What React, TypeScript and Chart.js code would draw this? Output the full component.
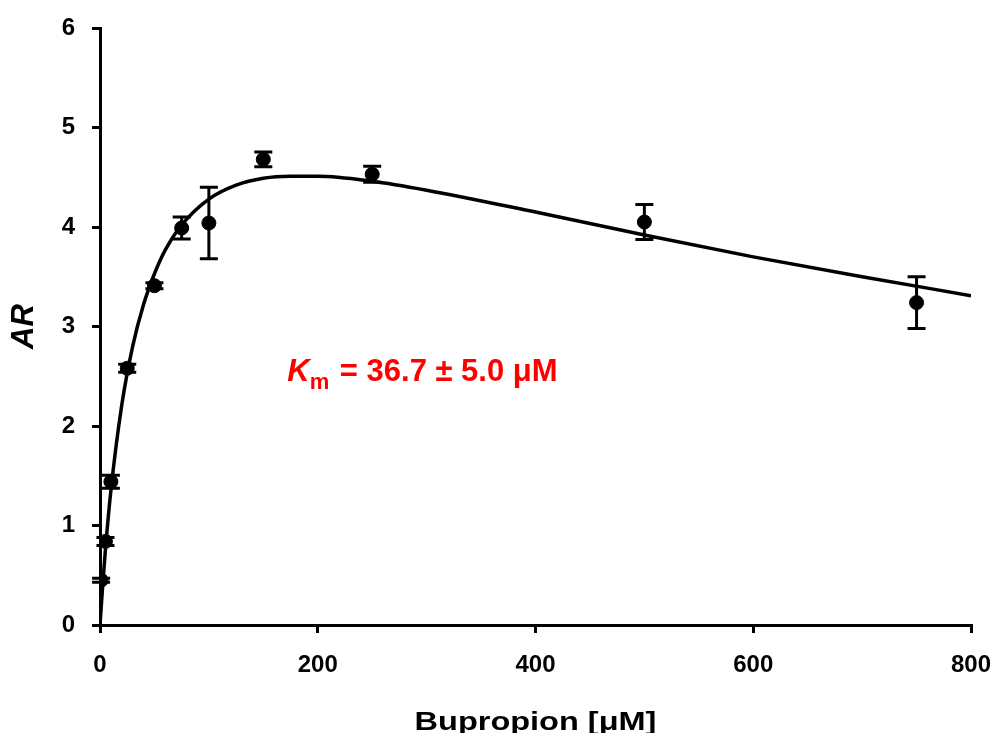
import React, { useEffect, useRef } from "react";
import { Chart, registerables } from "chart.js";

Chart.register(...registerables);

const conc = [1, 5, 10, 25, 50, 75, 100, 150, 250, 500, 750];
const arValues = [0.45, 0.84, 1.44, 2.58, 3.41, 3.99, 4.04, 4.68, 4.53, 4.05, 3.24];
const arErrors = [0.02, 0.04, 0.065, 0.04, 0.03, 0.11, 0.36, 0.075, 0.08, 0.175, 0.26];

const fitX = [0, 2.5, 5, 10, 20, 30, 40, 50, 60, 75, 100, 125, 150, 175, 200, 250, 300, 400, 500, 600, 700, 800];
const fitY = [0, 0.4, 0.76, 1.35, 2.21, 2.8, 3.22, 3.53, 3.77, 4.02, 4.28, 4.42, 4.49, 4.51, 4.51, 4.46, 4.37, 4.15, 3.92, 3.7, 3.5, 3.31];

const xTicks = [0, 200, 400, 600, 800];
const yTicks = [0, 1, 2, 3, 4, 5, 6];

const xTitle = "Bupropion [μM]";
const yTitle = "AR";
const annotation = { x: 172, y: 2.45, k: "K", sub: "m", rest: " = 36.7 ± 5.0 μM" };

const FONT = "Arial, 'Liberation Sans', sans-serif";

const errorBarPlugin = {
  id: "errorBars",
  afterDatasetsDraw(chart: any) {
    const xs = chart.scales.x;
    const ys = chart.scales.y;
    const ctx = chart.ctx;
    ctx.save();
    ctx.strokeStyle = "#000";
    ctx.lineWidth = 3;
    const cap = 9;
    conc.forEach((c, i) => {
      const px = xs.getPixelForValue(c);
      const top = ys.getPixelForValue(arValues[i] + arErrors[i]);
      const bot = ys.getPixelForValue(arValues[i] - arErrors[i]);
      ctx.beginPath();
      ctx.moveTo(px, top);
      ctx.lineTo(px, bot);
      ctx.moveTo(px - cap, top);
      ctx.lineTo(px + cap, top);
      ctx.moveTo(px - cap, bot);
      ctx.lineTo(px + cap, bot);
      ctx.stroke();
    });
    // annotation
    const ax = xs.getPixelForValue(annotation.x);
    const ay = ys.getPixelForValue(annotation.y);
    ctx.fillStyle = "#ff0000";
    ctx.textBaseline = "alphabetic";
    ctx.textAlign = "left";
    ctx.font = `italic bold 31px ${FONT}`;
    ctx.fillText(annotation.k, ax, ay);
    let w = ctx.measureText(annotation.k).width;
    ctx.font = `bold 22px ${FONT}`;
    ctx.fillText(annotation.sub, ax + w, ay + 8);
    w += ctx.measureText(annotation.sub).width;
    ctx.font = `bold 31px ${FONT}`;
    ctx.fillText(annotation.rest, ax + w + 2, ay);
    ctx.restore();
  },
  afterDraw(chart: any) {
    const ctx = chart.ctx;
    const area = chart.chartArea;
    ctx.save();
    ctx.fillStyle = "#000";
    ctx.textAlign = "center";
    ctx.textBaseline = "alphabetic";
    ctx.font = `bold 25px ${FONT}`;
    const cx = (area.left + area.right) / 2;
    ctx.translate(cx, chart.height - 3);
    ctx.scale(1.3, 1);
    ctx.fillText(xTitle, 0, 0);
    ctx.restore();
  },
};

export default function App() {
  const ref = useRef<HTMLCanvasElement>(null);
  useEffect(() => {
    if (!ref.current) return;
    const chart = new Chart(ref.current, {
      type: "scatter",
      data: {
        datasets: [
          {
            type: "line",
            data: fitX.map((x, i) => ({ x, y: fitY[i] })),
            borderColor: "#000",
            borderWidth: 3.5,
            pointRadius: 0,
            cubicInterpolationMode: "monotone",
            fill: false,
          } as any,
          {
            data: conc.map((x, i) => ({ x, y: arValues[i] })),
            backgroundColor: "#000",
            borderColor: "#000",
            pointRadius: 7,
            pointHoverRadius: 7,
          },
        ],
      },
      options: {
        responsive: false,
        animation: false,
        devicePixelRatio: 1,
        layout: { padding: { top: 28, right: 26, left: 0, bottom: 0 } },
        plugins: { legend: { display: false }, tooltip: { enabled: false } },
        scales: {
          x: {
            type: "linear",
            min: 0,
            max: 800,
            afterFit: (s: any) => {
              s.height = 108;
              s.paddingLeft = 0;
              s.paddingRight = 0;
            },
            afterBuildTicks: (s: any) => {
              s.ticks = xTicks.map((v) => ({ value: v }));
            },
            grid: {
              drawOnChartArea: false,
              drawTicks: true,
              tickLength: 8,
              color: "#000",
              lineWidth: 3,
            },
            border: { display: true, color: "#000", width: 3 },
            ticks: {
              color: "#000",
              padding: 18,
              font: { family: FONT, size: 24, weight: "bold" },
            },
            title: { display: false },
          },
          y: {
            type: "linear",
            min: 0,
            max: 6,
            afterFit: (s: any) => {
              s.width = 100;
              s.paddingTop = 0;
              s.paddingBottom = 0;
            },
            afterBuildTicks: (s: any) => {
              s.ticks = yTicks.map((v) => ({ value: v }));
            },
            grid: {
              drawOnChartArea: false,
              drawTicks: true,
              tickLength: 8,
              color: "#000",
              lineWidth: 3,
            },
            border: { display: true, color: "#000", width: 3 },
            ticks: {
              color: "#000",
              padding: 17,
              font: { family: FONT, size: 24, weight: "bold" },
            },
            title: {
              display: true,
              text: yTitle,
              color: "#000",
              font: { family: FONT, size: 31, weight: "bold", style: "italic" },
              padding: { top: 6, bottom: 0 },
            },
          },
        },
      },
      plugins: [errorBarPlugin],
    });
    return () => chart.destroy();
  }, []);
  return (
    <div style={{ position: "fixed", left: 0, top: 0, width: 997, height: 733, background: "#fff" }}>
      <canvas ref={ref} width={997} height={733} />
    </div>
  );
}
